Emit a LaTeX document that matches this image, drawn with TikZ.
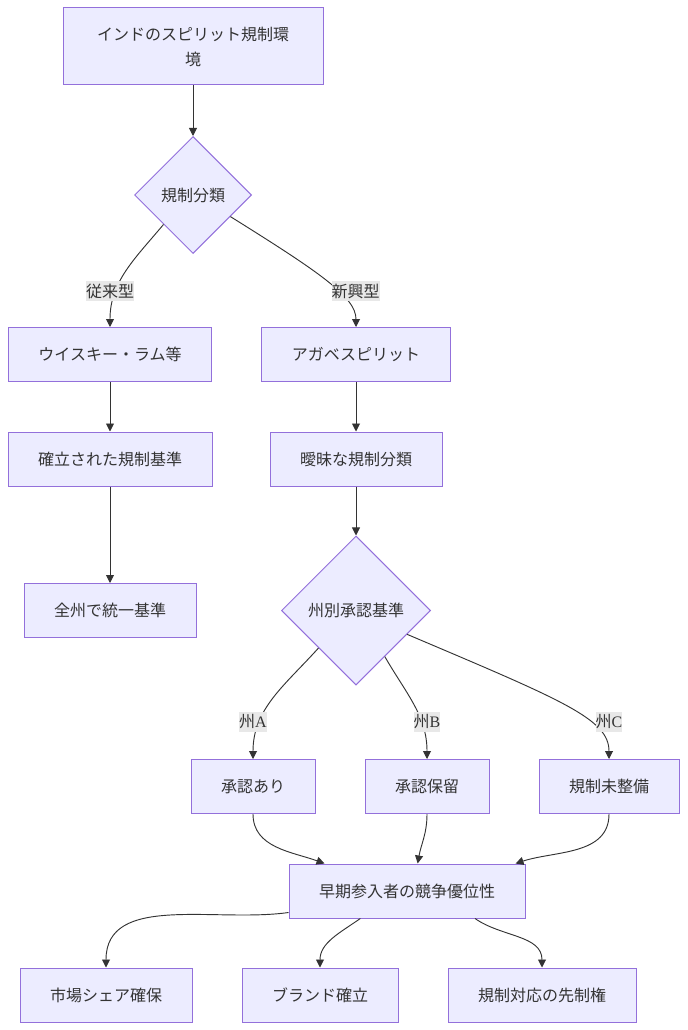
\documentclass[tikz,border=0pt]{standalone}
\usepackage{fontspec}
\setmainfont{Noto Sans CJK JP}
\newfontfamily\labelserif{Liberation Serif}
\usepackage{tikz}
\usetikzlibrary{shapes.geometric,arrows.meta}
\definecolor{nodefill}{HTML}{ECECFF}
\definecolor{nodeline}{HTML}{9370DB}
\definecolor{inkgray}{HTML}{333333}
\definecolor{labelbg}{HTML}{E8E8E8}

\begin{document}
\begin{tikzpicture}[x=0.75pt, y=0.75pt,
    font=\fontsize{12pt}{18.75pt}\selectfont, text=inkgray,
    flowbox/.style={draw=nodeline, fill=nodefill, line width=0.75pt,
      inner xsep=22.5pt, minimum height=40.5pt},
    flowdia/.style={draw=nodeline, fill=nodefill, line width=0.75pt,
      diamond, aspect=1, inner sep=0pt},
    flowlbl/.style={fill=labelbg, inner xsep=0pt, inner ysep=2pt},
    flowline/.style={draw=inkgray, line width=0.7pt,
      -{Triangle[length=6pt,width=6pt]}}]
    \useasboundingbox (0,0) rectangle (687,-1030);

    % top and first split
    \node[flowbox, minimum width=195pt, minimum height=57.75pt, align=center]
      (env) at (193,-46.5) {インドのスピリット規制環\\境};
    \node[flowdia, minimum width=87.75pt, minimum height=87.75pt]
      (cls) at (193,-195) {規制分類};

    % left branch
    \node[flowbox] (whisky) at (110,-354.5) {ウイスキー・ラム等};
    \node[flowbox] (fixed) at (110,-459) {確立された規制基準};
    \node[flowbox] (unified) at (110,-610.5) {全州で統一基準};

    % right branch
    \node[flowbox] (agave) at (356,-354.5) {アガベスピリット};
    \node[flowbox] (vague) at (356,-459) {曖昧な規制分類};
    \node[flowdia, minimum width=111.75pt, minimum height=111.75pt]
      (state) at (356,-610.5) {州別承認基準};

    \node[flowbox] (approved) at (253,-786.5) {承認あり};
    \node[flowbox] (pending) at (427,-786.5) {承認保留};
    \node[flowbox] (nolaw) at (609,-786.5) {規制未整備};

    \node[flowbox] (early) at (407,-891) {早期参入者の競争優位性};

    \node[flowbox] (share) at (106,-995) {市場シェア確保};
    \node[flowbox] (brand) at (320,-995) {ブランド確立};
    \node[flowbox] (first) at (542,-995) {規制対応の先制権};

    % connectors
    \draw[flowline] (env) -- (cls);
    \draw[flowline] (cls.south west) to[out=-130, in=90] (whisky.north);
    \draw[flowline] (cls.-30) .. controls +(-32:105) and +(0,30) .. (agave.north);
    \draw[flowline] (whisky) -- (fixed);
    \draw[flowline] (fixed) -- (unified);
    \draw[flowline] (agave) -- (vague);
    \draw[flowline] (vague) -- (state);
    \draw[flowline] (state.south west) to[out=-132, in=90] (approved.north);
    \draw[flowline] (state.-58) to[out=-60, in=90] (pending.north);
    \draw[flowline] (state.-25) .. controls +(-23:170) and +(0,40) .. (nolaw.north);
    \draw[flowline] (approved.south) to[out=-90, in=160] ([xshift=27pt]early.north west);
    \draw[flowline] (pending.south) to[out=-90, in=80] ([xshift=8pt]early.north);
    \draw[flowline] (nolaw.south) to[out=-90, in=18] ([xshift=-7.5pt]early.north east);
    \draw[flowline] ([yshift=4.5pt]early.south west) to[out=188, in=90] (share.north);
    \draw[flowline] ([xshift=-35pt]early.south) to[out=-145, in=90] (brand.north);
    \draw[flowline] ([xshift=51pt]early.south) to[out=-35, in=90] (first.north);

    % edge labels
    \node[flowlbl] (lblold) at (110,-291) {従来型};
    \node[flowlbl] (lblnew) at (355.5,-291) {新興型};
    \node[flowlbl] (lbla) at (253,-722) {州{\labelserif A}};
    \node[flowlbl] (lblb) at (427,-722) {州{\labelserif B}};
    \node[flowlbl] (lblc) at (609,-722) {州{\labelserif C}};
  \end{tikzpicture}
\end{document}
